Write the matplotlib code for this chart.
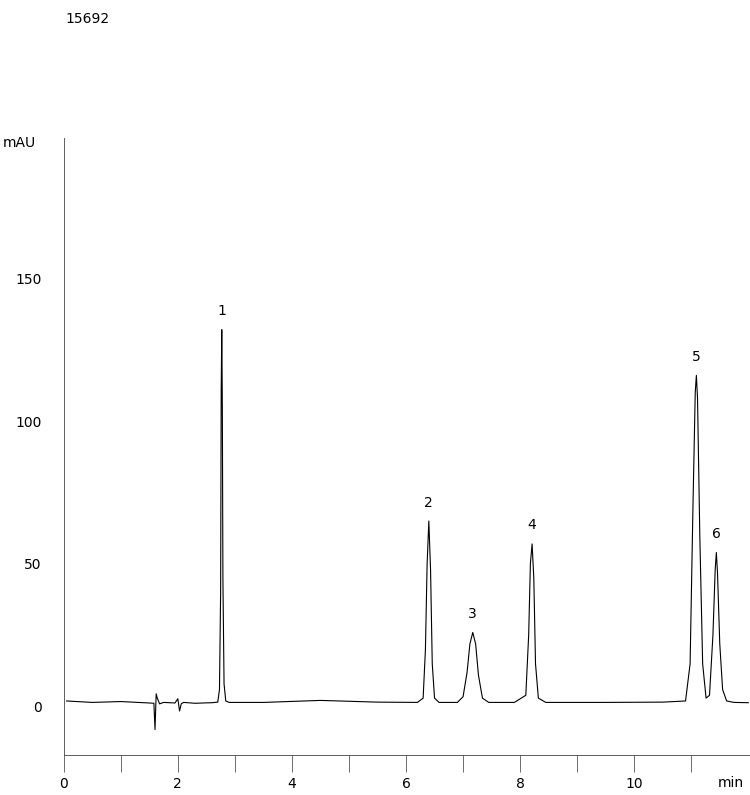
import matplotlib

matplotlib.use("Agg")
import matplotlib.pyplot as plt

# chromatogram trace (min, mAU)
time_min = [
    0.05, 0.5, 1.0, 1.5, 1.58, 1.60, 1.62, 1.64, 1.68, 1.75, 1.95, 2.00, 2.03, 2.06, 2.10, 2.3, 2.6,
    2.70, 2.73, 2.75, 2.76, 2.77, 2.78, 2.79, 2.81, 2.84, 2.90,
    3.5, 4.5, 5.5, 6.2, 6.30, 6.34, 6.37, 6.40, 6.43, 6.46, 6.50, 6.58,
    6.9, 7.00, 7.07, 7.12, 7.17, 7.22, 7.27, 7.34, 7.45,
    7.9, 8.10, 8.15, 8.18, 8.21, 8.24, 8.27, 8.32, 8.45,
    9.5, 10.5, 10.9, 10.98, 11.03, 11.07, 11.09, 11.11, 11.15, 11.20, 11.26,
    11.32, 11.38, 11.42, 11.44, 11.46, 11.50, 11.55, 11.62, 11.75, 12.0,
]
signal_mau = [
    2.0, 1.5, 1.8, 1.3, 1.2, -8.0, 4.5, 3.0, 1.0, 1.5, 1.3, 2.8, -1.5, 1.0, 1.5, 1.2, 1.4,
    1.6, 6.0, 40.0, 110.0, 132.0, 105.0, 45.0, 8.0, 2.0, 1.5,
    1.5, 2.2, 1.6, 1.5, 3.0, 20.0, 50.0, 65.0, 48.0, 15.0, 3.0, 1.5,
    1.5, 3.5, 12.0, 22.0, 26.0, 22.0, 11.0, 3.0, 1.5,
    1.5, 4.0, 25.0, 50.0, 57.0, 45.0, 15.0, 3.0, 1.5,
    1.5, 1.6, 2.0, 15.0, 70.0, 110.0, 116.0, 108.0, 60.0, 15.0, 3.0,
    4.0, 25.0, 48.0, 54.0, 47.0, 22.0, 6.0, 2.0, 1.5, 1.4,
]
peak_time = [2.77, 6.40, 7.17, 8.21, 11.09, 11.44]
peak_height = [132, 65, 26, 57, 116, 54]
peak_label = ["1", "2", "3", "4", "5", "6"]

fig = plt.figure(figsize=(7.5, 7.95), dpi=100)
ax = fig.add_axes((0.085, 0.05, 0.915, 0.776))
ax.plot(time_min, signal_mau, color="black", lw=0.8)
for t, h, lab in zip(peak_time, peak_height, peak_label):
    ax.text(t, h + 4, lab, ha="center", va="bottom", fontsize=10)

ax.set_xlim(0, 12.03)
ax.set_ylim(-17, 199)
ax.set_xticks(range(0, 12))
ax.set_xticklabels([str(v) if v % 2 == 0 else "" for v in range(0, 12)], fontsize=10)
ax.set_yticks([0, 50, 100, 150])
ax.set_yticklabels(["0", "50", "100", "150"], fontsize=10)
ax.tick_params(axis="x", direction="out", length=12, width=0.6, color="#555555")
ax.tick_params(axis="y", length=0, pad=16)
for s in ("top", "right"):
    ax.spines[s].set_visible(False)
for s in ("left", "bottom"):
    ax.spines[s].set_linewidth(0.6)
    ax.spines[s].set_color("#444444")

fig.text(0.003, 0.82, "mAU", fontsize=10, va="center")
fig.text(0.975, 0.006, "min", fontsize=10, ha="center", va="bottom")
fig.text(0.087, 0.985, "15692", fontsize=10, va="top")

fig.savefig("out.png", dpi=100)
